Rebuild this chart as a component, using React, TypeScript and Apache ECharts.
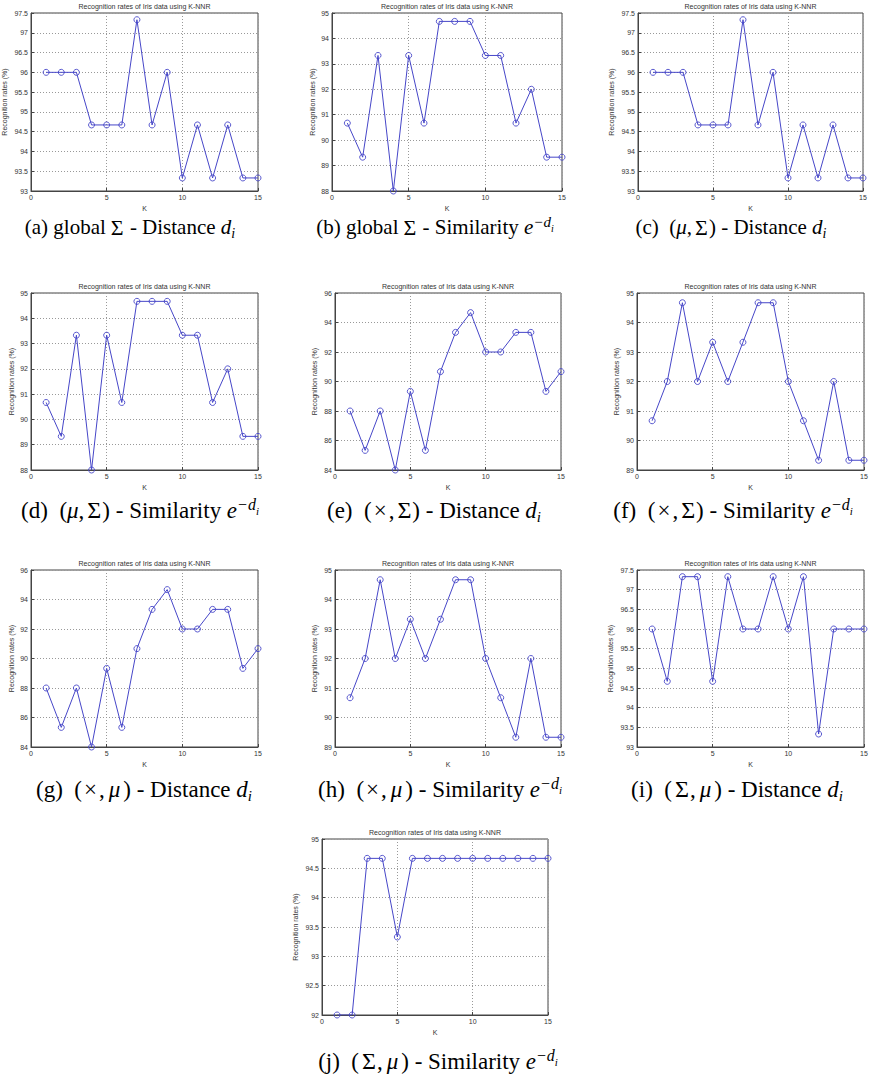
import React, { useEffect, useRef } from "react";
import * as echarts from "echarts";

const K = [1, 2, 3, 4, 5, 6, 7, 8, 9, 10, 11, 12, 13, 14, 15];

const ratesA = [96, 96, 96, 94.67, 94.67, 94.67, 97.33, 94.67, 96, 93.33, 94.67, 93.33, 94.67, 93.33, 93.33];
const ratesB = [90.67, 89.33, 93.33, 88, 93.33, 90.67, 94.67, 94.67, 94.67, 93.33, 93.33, 90.67, 92, 89.33, 89.33];
const ratesC = [96, 96, 96, 94.67, 94.67, 94.67, 97.33, 94.67, 96, 93.33, 94.67, 93.33, 94.67, 93.33, 93.33];
const ratesD = [90.67, 89.33, 93.33, 88, 93.33, 90.67, 94.67, 94.67, 94.67, 93.33, 93.33, 90.67, 92, 89.33, 89.33];
const ratesE = [88, 85.33, 88, 84, 89.33, 85.33, 90.67, 93.33, 94.67, 92, 92, 93.33, 93.33, 89.33, 90.67];
const ratesF = [90.67, 92, 94.67, 92, 93.33, 92, 93.33, 94.67, 94.67, 92, 90.67, 89.33, 92, 89.33, 89.33];
const ratesG = [88, 85.33, 88, 84, 89.33, 85.33, 90.67, 93.33, 94.67, 92, 92, 93.33, 93.33, 89.33, 90.67];
const ratesH = [90.67, 92, 94.67, 92, 93.33, 92, 93.33, 94.67, 94.67, 92, 90.67, 89.33, 92, 89.33, 89.33];
const ratesI = [96, 94.67, 97.33, 97.33, 94.67, 97.33, 96, 96, 97.33, 96, 97.33, 93.33, 96, 96, 96];
const ratesJ = [92, 92, 94.67, 94.67, 93.33, 94.67, 94.67, 94.67, 94.67, 94.67, 94.67, 94.67, 94.67, 94.67, 94.67];

// y-axis [min, max, interval] per panel
const yTicksA = [93, 97.5, 0.5];
const yTicksB = [88, 95, 1];
const yTicksC = [93, 97.5, 0.5];
const yTicksD = [88, 95, 1];
const yTicksE = [84, 96, 2];
const yTicksF = [89, 95, 1];
const yTicksG = [84, 96, 2];
const yTicksH = [89, 95, 1];
const yTicksI = [93, 97.5, 0.5];
const yTicksJ = [92, 95, 0.5];

const xTicks = [0, 15, 5];

const chartTitle = "Recognition rates of Iris data using K-NNR";
const yName = "Recognition rates (%)";
const xName = "K";

const captionLetters = ["a", "b", "c", "d", "e", "f", "g", "h", "i", "j"];
const captionMethods = ["global", "global", "mu-sigma", "mu-sigma", "x-sigma", "x-sigma", "x-mu", "x-mu", "sigma-mu", "sigma-mu"];
const captionMeasures = ["Distance", "Similarity", "Distance", "Similarity", "Distance", "Similarity", "Distance", "Similarity", "Distance", "Similarity"];

const panelData = [ratesA, ratesB, ratesC, ratesD, ratesE, ratesF, ratesG, ratesH, ratesI, ratesJ];
const panelY = [yTicksA, yTicksB, yTicksC, yTicksD, yTicksE, yTicksF, yTicksG, yTicksH, yTicksI, yTicksJ];

const layout = [
  { left: 31, top: 13, width: 227, height: 178, gap: 23, cap: 130, capY: 227, fs: 21, sp: " " },
  { left: 332, top: 13, width: 230, height: 178, gap: 16, cap: 435, capY: 227, fs: 21, sp: " " },
  { left: 638, top: 13, width: 225, height: 178, gap: 23, cap: 731, capY: 227, fs: 21, sp: "  " },
  { left: 31, top: 293, width: 227, height: 177, gap: 16, cap: 140, capY: 510, fs: 23, sp: "  " },
  { left: 335, top: 293, width: 226, height: 177, gap: 17, cap: 434, capY: 510, fs: 23, sp: "  " },
  { left: 637, top: 293, width: 227, height: 177, gap: 17, cap: 733, capY: 510, fs: 23, sp: "  " },
  { left: 31, top: 570, width: 227, height: 177, gap: 16, cap: 144, capY: 789, fs: 23, sp: "  " },
  { left: 335, top: 570, width: 226, height: 177, gap: 17, cap: 440, capY: 789, fs: 23, sp: "  " },
  { left: 637, top: 570, width: 227, height: 177, gap: 23, cap: 737, capY: 789, fs: 23, sp: "  " },
  { left: 322, top: 839, width: 226, height: 176, gap: 23, cap: 438, capY: 1061, fs: 23, sp: "  " },
];

const LINE = "#4646c8";
const AX = "#444";
const SANS = "'Liberation Sans', Arial, sans-serif";
const SERIF = "'Liberation Serif', 'Times New Roman', serif";

function methodRich(m: string): string {
  if (m === "global") return "{n|global}{gsum|Σ}";
  if (m === "mu-sigma") return "{n|(}{it|μ}{n|,}{sum|Σ}{n|)}";
  if (m === "x-sigma") return "{n|(}{op|×}{n|,}{sum|Σ}{n|)}";
  if (m === "x-mu") return "{n|(}{op|×}{n|,}{mu|μ}{n|)}";
  return "{n|(}{sum|Σ}{n|,}{mu|μ}{n|)}";
}

function measureRich(m: string): string {
  if (m === "Distance") return "{n|Distance }{it|d}{sub|i}";
  return "{n|Similarity }{it|e}{sup|−d}{supsub|i}";
}

function makeRich(fs: number) {
  const lh = Math.round(fs * 1.22);
  const base = { fontFamily: SERIF, fontSize: fs, color: "#111", lineHeight: lh, verticalAlign: "middle" };
  return {
    n: base,
    it: { ...base, fontStyle: "italic" },
    mu: { ...base, fontStyle: "italic", padding: [0, 3, 0, 4] },
    op: { ...base, padding: [0, 2, 0, 2] },
    sum: { ...base, fontSize: Math.round(fs * 1.05), padding: [0, 1, 0, 3] },
    gsum: { ...base, fontSize: Math.round(fs * 1.05), padding: [0, 1, 0, 5] },
    sub: { fontFamily: SERIF, fontSize: Math.round(fs * 0.66), fontStyle: "italic", color: "#111", lineHeight: Math.round(fs * 0.74), verticalAlign: "bottom" },
    sup: { fontFamily: SERIF, fontSize: Math.round(fs * 0.7), fontStyle: "italic", color: "#111", lineHeight: Math.round(fs * 0.7), verticalAlign: "top" },
    supsub: { fontFamily: SERIF, fontSize: Math.round(fs * 0.48), fontStyle: "italic", color: "#111", lineHeight: Math.round(fs * 0.48), verticalAlign: "top", padding: [Math.round(fs * 0.41), 0, 0, 0] },
  };
}

export default function App() {
  const ref = useRef<HTMLDivElement>(null);
  useEffect(() => {
    if (!ref.current) return;
    const chart = echarts.init(ref.current, null, { renderer: "svg" });
    const grid: any[] = [];
    const xAxis: any[] = [];
    const yAxis: any[] = [];
    const series: any[] = [];
    const graphic: any[] = [];
    panelData.forEach((vals, i) => {
      const L = layout[i];
      const yt = panelY[i];
      grid.push({
        left: L.left, top: L.top, width: L.width, height: L.height,
        show: true, borderColor: AX, borderWidth: 1, backgroundColor: "#fff",
      });
      xAxis.push({
        type: "value", gridIndex: i, min: xTicks[0], max: xTicks[1], interval: xTicks[2],
        name: xName, nameLocation: "middle", nameGap: 14,
        nameTextStyle: { fontFamily: SANS, fontSize: 7, color: "#333" },
        axisLine: { show: true, lineStyle: { color: AX, width: 1 } },
        axisTick: { show: true, inside: true, length: 3, lineStyle: { color: AX } },
        axisLabel: { fontFamily: SANS, fontSize: 7, color: "#333", margin: 3 },
        splitLine: { show: true, lineStyle: { color: "#999", type: [1, 2], width: 1 } },
      });
      yAxis.push({
        type: "value", gridIndex: i, min: yt[0], max: yt[1], interval: yt[2],
        name: yName, nameLocation: "middle", nameGap: L.gap,
        nameTextStyle: { fontFamily: SANS, fontSize: 7, color: "#333" },
        axisLine: { show: true, lineStyle: { color: AX, width: 1 } },
        axisTick: { show: true, inside: true, length: 3, lineStyle: { color: AX } },
        axisLabel: { fontFamily: SANS, fontSize: 7, color: "#333", margin: 3 },
        splitLine: { show: true, lineStyle: { color: "#999", type: [1, 2], width: 1 } },
      });
      series.push({
        type: "line", xAxisIndex: i, yAxisIndex: i,
        data: K.map((k, j) => [k, vals[j]]),
        symbol: "circle", symbolSize: 6,
        lineStyle: { color: LINE, width: 1 },
        itemStyle: { color: "rgba(0,0,0,0)", borderColor: LINE, borderWidth: 0.9 },
        showSymbol: true,
      });
      graphic.push({
        type: "text", x: L.left + L.width / 2, y: L.top - 7,
        style: { text: chartTitle, align: "center", verticalAlign: "middle", font: `7px ${SANS}`, fill: "#333" },
      });
      graphic.push({
        type: "text", x: L.cap, y: L.capY,
        style: {
          text: `{n|(${captionLetters[i]})${L.sp}}` + methodRich(captionMethods[i]) + "{n| - }" + measureRich(captionMeasures[i]),
          rich: makeRich(L.fs), align: "center", verticalAlign: "middle",
        },
      });
    });
    chart.setOption({
      animation: false,
      backgroundColor: "#fff",
      grid, xAxis, yAxis, series, graphic,
    });
    return () => chart.dispose();
  }, []);
  return <div ref={ref} style={{ position: "absolute", left: 0, top: 0, width: 878, height: 1075 }} />;
}
